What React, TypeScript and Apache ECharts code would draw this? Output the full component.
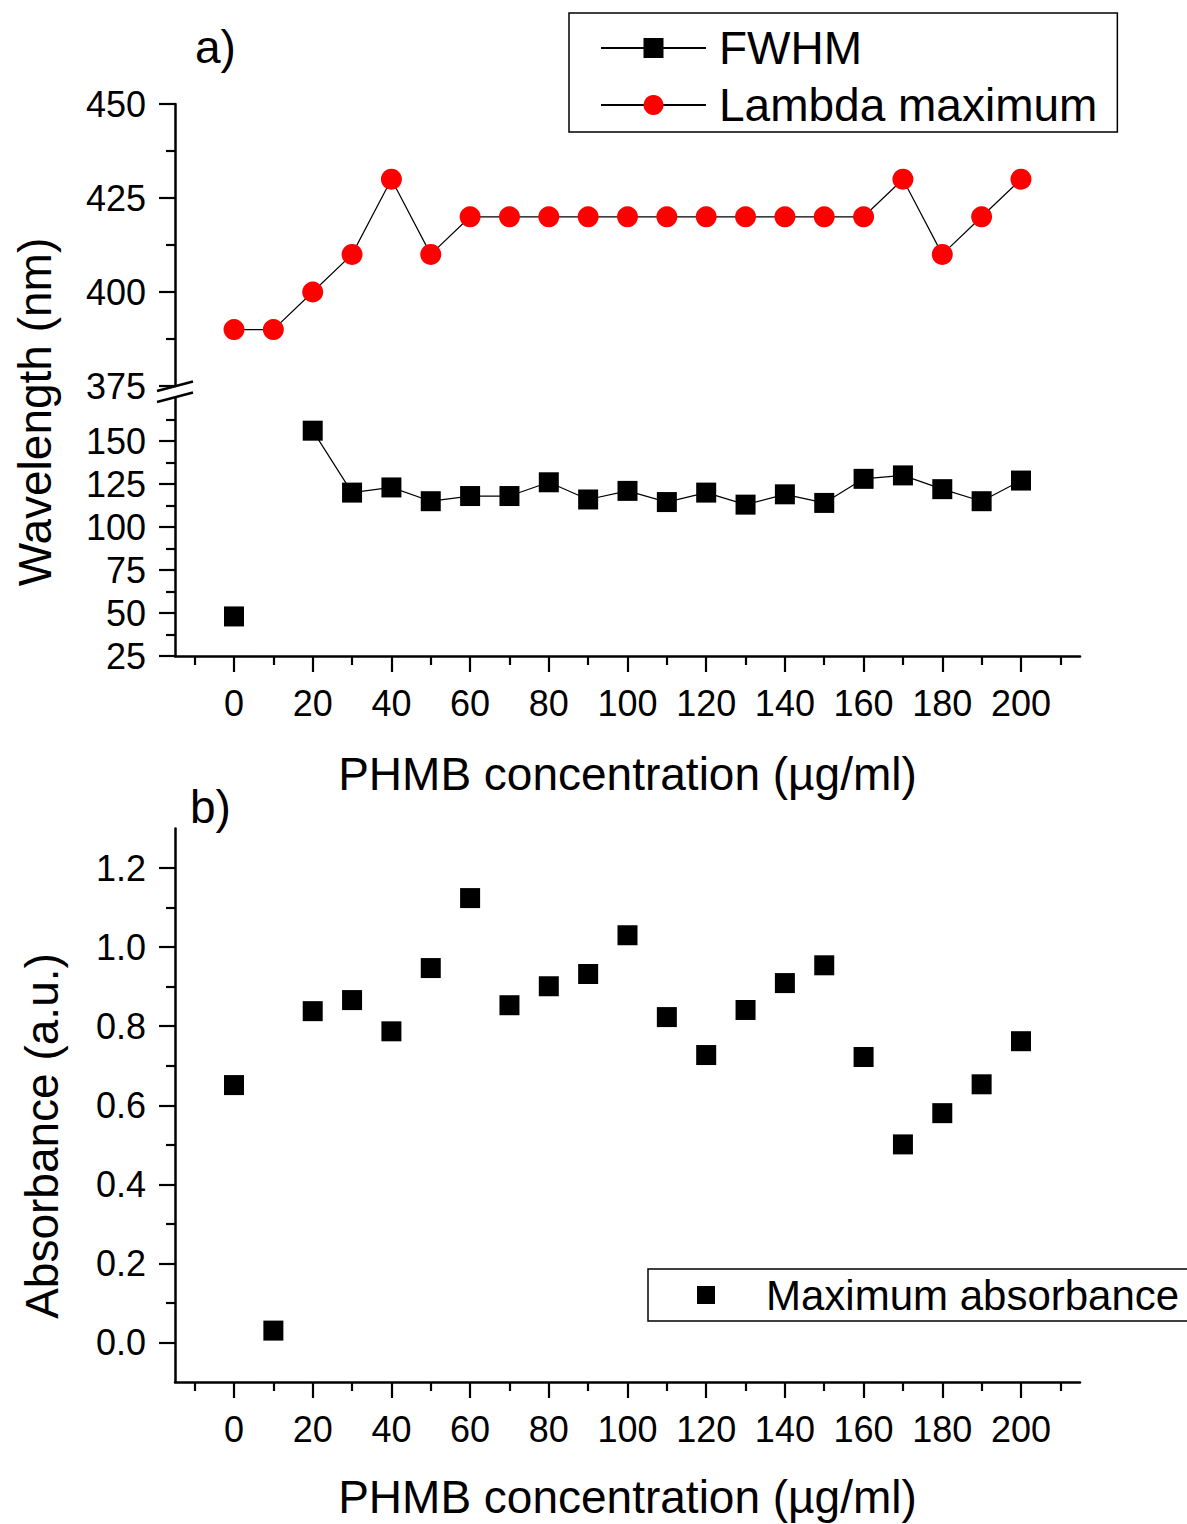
import React, { useEffect, useRef } from "react";
import * as echarts from "echarts";

const concentrations = [0, 10, 20, 30, 40, 50, 60, 70, 80, 90, 100, 110, 120, 130, 140, 150, 160, 170, 180, 190, 200];
const lambdaMax = [390, 390, 400, 410, 430, 410, 420, 420, 420, 420, 420, 420, 420, 420, 420, 420, 420, 430, 410, 420, 430];
const fwhm: (number | null)[] = [48, null, 156, 120, 123, 115, 118, 118, 126, 116, 121, 114.5, 120, 113, 119, 114, 128, 130, 122, 115, 127];
const absorbance = [0.651, 0.03, 0.838, 0.866, 0.787, 0.947, 1.124, 0.853, 0.901, 0.932, 1.03, 0.823, 0.727, 0.841, 0.909, 0.954, 0.722, 0.501, 0.58, 0.653, 0.762];

const xMajorTicks = [0, 20, 40, 60, 80, 100, 120, 140, 160, 180, 200];
const xMinorTicks = [-10, 10, 30, 50, 70, 90, 110, 130, 150, 170, 190, 210];
const fwhmMajorTicks = [25, 50, 75, 100, 125, 150];
const fwhmMinorTicks = [37.5, 62.5, 87.5, 112.5, 137.5, 162.5];
const absMajorTicks = [0, 0.2, 0.4, 0.6, 0.8, 1.0, 1.2];
const absMinorTicks = [0.1, 0.3, 0.5, 0.7, 0.9, 1.1];

const FONT = "'Liberation Sans', Arial, Helvetica, sans-serif";
const AXIS_W = 2.5;

export default function App() {
  const ref = useRef<HTMLDivElement>(null);
  useEffect(() => {
    document.body.style.margin = "0";
    const chart = echarts.init(ref.current!, null, { renderer: "svg" });

    const axisLine = { show: true, lineStyle: { color: "#000", width: AXIS_W } };
    const labelStyle = { fontSize: 36, fontFamily: FONT, color: "#000" };

    const xMain = (gridIndex: number, nameGap: number) => ({
      type: "value",
      gridIndex,
      position: "bottom",
      min: -15,
      max: 215,
      axisLine: { ...axisLine, onZero: false },
      splitLine: { show: false },
      axisTick: { show: true, inside: false, length: 16, customValues: xMajorTicks, lineStyle: { color: "#000", width: 2.2 } },
      axisLabel: { show: true, customValues: xMajorTicks, margin: 29, ...labelStyle },
      name: "PHMB concentration (µg/ml)",
      nameLocation: "middle",
      nameGap,
      nameTextStyle: { fontSize: 46, fontFamily: FONT, color: "#000" },
    });
    const xMinor = (gridIndex: number) => ({
      type: "value",
      gridIndex,
      position: "bottom",
      offset: 0,
      min: -15,
      max: 215,
      axisLine: { show: false, onZero: false },
      splitLine: { show: false },
      axisTick: { show: true, inside: false, length: 9, customValues: xMinorTicks, lineStyle: { color: "#000", width: 2.2 } },
      axisLabel: { show: false },
    });
    const yMinor = (gridIndex: number, min: number, max: number, vals: number[]) => ({
      type: "value",
      gridIndex,
      min,
      max,
      position: "left",
      offset: 0,
      axisLine: { show: false, onZero: false },
      splitLine: { show: false },
      axisTick: { show: true, inside: false, length: 9, customValues: vals, lineStyle: { color: "#000", width: 2.2 } },
      axisLabel: { show: false },
    });

    chart.setOption({
      animation: false,
      backgroundColor: "#fff",
      grid: [
        { left: 175, right: 107, top: 104, height: 282 },
        { left: 175, right: 107, top: 398, height: 258 },
        { left: 175, right: 107, top: 828.5, height: 553.5 },
      ],
      xAxis: [
        { type: "value", gridIndex: 0, min: -15, max: 215, show: false },
        xMain(1, 95),
        xMinor(1),
        xMain(2, 92),
        xMinor(2),
      ],
      yAxis: [
        {
          type: "value",
          gridIndex: 0,
          position: "left",
          min: 375,
          max: 450,
          interval: 25,
          axisLine: { ...axisLine, onZero: false },
          splitLine: { show: false },
          axisTick: { show: true, inside: false, length: 16, lineStyle: { color: "#000", width: 2.2 } },
          minorTick: { show: true, splitNumber: 2, length: 9, lineStyle: { color: "#000", width: 2.2 } },
          axisLabel: { margin: 29, ...labelStyle },
        },
        {
          type: "value",
          gridIndex: 1,
          position: "left",
          min: 25,
          max: 175,
          axisLine: { ...axisLine, onZero: false },
          splitLine: { show: false },
          axisTick: { show: true, inside: false, length: 16, customValues: fwhmMajorTicks, lineStyle: { color: "#000", width: 2.2 } },
          axisLabel: { customValues: fwhmMajorTicks, margin: 29, ...labelStyle },
        },
        yMinor(1, 25, 175, fwhmMinorTicks),
        {
          type: "value",
          gridIndex: 2,
          position: "left",
          min: -0.1,
          max: 1.3,
          axisLine: { ...axisLine, onZero: false },
          splitLine: { show: false },
          axisTick: { show: true, inside: false, length: 16, customValues: absMajorTicks, lineStyle: { color: "#000", width: 2.2 } },
          axisLabel: { customValues: absMajorTicks, margin: 29, formatter: (v: number) => v.toFixed(1), ...labelStyle },
        },
        yMinor(2, -0.1, 1.3, absMinorTicks),
      ],
      legend: [
        {
          data: ["FWHM", "Lambda maximum"],
          orient: "vertical",
          left: 569,
          top: 13,
          itemWidth: 105,
          itemHeight: 25,
          itemGap: 3,
          padding: [8, 20, 0, 31],
          borderColor: "#000",
          borderWidth: 1.5,
          textStyle: { fontSize: 46, fontFamily: FONT, color: "#000", lineHeight: 54, padding: [0, 0, 0, 8] },
        },
        {
          data: ["Maximum absorbance"],
          orient: "vertical",
          left: 648,
          top: 1269,
          icon: "rect",
          itemWidth: 18,
          itemHeight: 18,
          padding: [4, 20, 4, 49],
          borderColor: "#000",
          borderWidth: 1.5,
          textStyle: { fontSize: 42, fontFamily: FONT, color: "#000", lineHeight: 44, padding: [0, 0, 0, 46] },
        },
      ],
      graphic: [
        { type: "text", left: 195, top: 24, style: { text: "a)", fontSize: 46, fontFamily: FONT, fill: "#000" } },
        { type: "text", left: 190, top: 784, style: { text: "b)", fontSize: 46, fontFamily: FONT, fill: "#000" } },
        {
          type: "text",
          x: 35,
          y: 412,
          rotation: Math.PI / 2,
          style: { text: "Wavelength (nm)", fontSize: 46, fontFamily: FONT, fill: "#000", align: "center", verticalAlign: "middle" },
        },
        {
          type: "text",
          x: 42,
          y: 1136,
          rotation: Math.PI / 2,
          style: { text: "Absorbance (a.u.)", fontSize: 46, fontFamily: FONT, fill: "#000", align: "center", verticalAlign: "middle" },
        },
        { type: "line", shape: { x1: 157, y1: 391, x2: 193, y2: 381.5 }, style: { stroke: "#000", lineWidth: 2.5 } },
        { type: "line", shape: { x1: 157, y1: 402, x2: 193, y2: 392.5 }, style: { stroke: "#000", lineWidth: 2.5 } },
      ],
      series: [
        {
          name: "FWHM",
          type: "line",
          xAxisIndex: 1,
          yAxisIndex: 1,
          data: concentrations.map((c, i) => [c, fwhm[i]]),
          connectNulls: false,
          symbol: "rect",
          symbolSize: 20,
          itemStyle: { color: "#000", opacity: 1 },
          lineStyle: { color: "#000", width: 1.2 },
        },
        {
          name: "Lambda maximum",
          type: "line",
          xAxisIndex: 0,
          yAxisIndex: 0,
          data: concentrations.map((c, i) => [c, lambdaMax[i]]),
          symbol: "circle",
          symbolSize: 21,
          itemStyle: { color: "#ff0000", opacity: 1 },
          lineStyle: { color: "#000", width: 1.2 },
        },
        {
          name: "Maximum absorbance",
          type: "scatter",
          xAxisIndex: 3,
          yAxisIndex: 3,
          data: concentrations.map((c, i) => [c, absorbance[i]]),
          symbol: "rect",
          symbolSize: 20,
          itemStyle: { color: "#000", opacity: 1 },
        },
      ],
    });
    return () => chart.dispose();
  }, []);
  return <div ref={ref} style={{ position: "absolute", left: 0, top: 0, width: 1187, height: 1524 }} />;
}
